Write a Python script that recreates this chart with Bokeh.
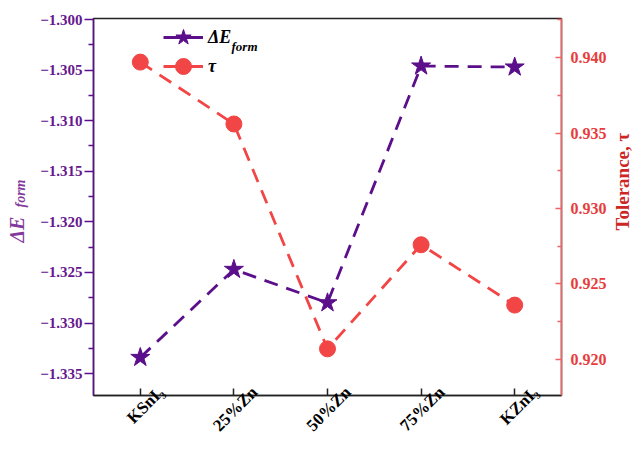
import math

from bokeh.plotting import figure
from bokeh.models import (Range1d, LinearAxis, FixedTicker, CustomJSTickFormatter,
                          Legend, LegendItem, Label, ColumnDataSource)
from bokeh.embed import file_html
from bokeh.resources import INLINE

# Compositions along the x axis
categories = ["KSnI₃", "25%Zn", "50%Zn", "75%Zn", "KZnI₃"]
# Formation energy (left axis)
delta_e_form = [-1.3334, -1.3247, -1.3280, -1.3046, -1.3047]
# Goldschmidt tolerance factor (right axis)
tolerance = [0.9397, 0.9356, 0.9207, 0.9276, 0.9236]

left_ticks = [-1.335, -1.330, -1.325, -1.320, -1.315, -1.310, -1.305, -1.300]
right_ticks = [0.920, 0.925, 0.930, 0.935, 0.940]

PURPLE = "#5B0F8B"
PURPLE_TEXT = "#66198F"
PURPLE_TITLE = "#833A9C"
RED = "#F24545"
RED_AXIS = "#F06464"
RED_TEXT = "#E83C3C"
RED_TITLE = "#CC2626"
FONT = "Liberation Serif"
DASH = "14 9"

xs = list(range(len(categories)))
x_lo, x_hi = -0.5, len(categories) - 0.5
# rotated tick labels are centred a little to the right of their ticks
label_shift = 0.22

p = figure(width=632, height=451,
           x_range=Range1d(x_lo, x_hi),
           y_range=Range1d(-1.33716, -1.2999),
           output_backend="svg", toolbar_location=None,
           min_border_left=93, min_border_right=71,
           min_border_top=18, min_border_bottom=56)
p.extra_x_ranges = {"labels": Range1d(x_lo - label_shift, x_hi - label_shift)}
p.extra_y_ranges = {"tau": Range1d(0.91761, 0.94259),
                    # nothing falls inside this range: used for legend-only swatches
                    "legend": Range1d(100, 101)}
p.xgrid.visible = False
p.ygrid.visible = False
p.outline_line_color = "#222222"
p.outline_line_width = 1.5
p.background_fill_color = "white"
p.border_fill_color = "white"

# x axis: line and inward ticks
xa = p.xaxis[0]
xa.ticker = FixedTicker(ticks=xs, minor_ticks=[])
xa.axis_line_color = "#222222"
xa.axis_line_width = 1.5
xa.major_tick_in = 7
xa.major_tick_out = 0
xa.major_tick_line_color = "#222222"
xa.major_tick_line_width = 1.5
xa.major_label_text_color = None
xa.major_label_text_font_size = "0px"
xa.major_label_standoff = 0

# x axis: composition names
xl = LinearAxis(x_range_name="labels",
                ticker=FixedTicker(ticks=xs, minor_ticks=[]),
                formatter=CustomJSTickFormatter(args=dict(labels=categories),
                                                code="return labels[tick] || '';"))
xl.axis_line_color = None
xl.major_tick_line_color = None
xl.minor_tick_line_color = None
xl.major_tick_in = 0
xl.major_tick_out = 0
xl.minor_tick_in = 0
xl.minor_tick_out = 0
xl.major_label_orientation = math.pi / 4
xl.major_label_text_font = FONT
xl.major_label_text_font_style = "bold"
xl.major_label_text_font_size = "17px"
xl.major_label_text_color = "black"
xl.major_label_standoff = -6
p.add_layout(xl, "below")

minor_left = [t - 0.0025 for t in left_ticks]
minor_right = [t - 0.0025 for t in right_ticks] + [right_ticks[-1] + 0.0025]

# left axis: formation energy
ya = p.yaxis[0]
ya.ticker = FixedTicker(ticks=left_ticks, minor_ticks=minor_left)
ya.formatter = CustomJSTickFormatter(
    code="return (tick < 0 ? '\u2212' : '') + Math.abs(tick).toFixed(3);")
ya.axis_line_color = PURPLE
ya.axis_line_width = 1.5
ya.major_tick_out = 9
ya.major_tick_in = 0
ya.minor_tick_out = 5
ya.minor_tick_in = 0
ya.major_tick_line_color = PURPLE
ya.minor_tick_line_color = PURPLE
ya.major_tick_line_width = 1.5
ya.minor_tick_line_width = 1.5
ya.major_label_text_font = FONT
ya.major_label_text_font_style = "bold"
ya.major_label_text_font_size = "15px"
ya.major_label_text_color = PURPLE_TEXT
ya.major_label_standoff = 2

# right axis: tolerance factor
ra = LinearAxis(y_range_name="tau",
                ticker=FixedTicker(ticks=right_ticks, minor_ticks=minor_right),
                formatter=CustomJSTickFormatter(code="return tick.toFixed(3);"))
ra.axis_line_color = RED_AXIS
ra.axis_line_width = 1.5
ra.major_tick_in = 6
ra.major_tick_out = 0
ra.minor_tick_in = 4
ra.minor_tick_out = 0
ra.major_tick_line_color = RED_AXIS
ra.minor_tick_line_color = RED_AXIS
ra.major_tick_line_width = 1.5
ra.minor_tick_line_width = 1.5
ra.major_label_text_font = FONT
ra.major_label_text_font_style = "bold"
ra.major_label_text_font_size = "16px"
ra.major_label_text_color = RED_TEXT
ra.major_label_standoff = 9
p.add_layout(ra, "right")

# data series
src_e = ColumnDataSource(dict(x=xs, y=delta_e_form))
src_t = ColumnDataSource(dict(x=xs, y=tolerance))

p.line("x", "y", source=src_e, line_color=PURPLE, line_width=2.8, line_dash=DASH)
p.scatter("x", "y", source=src_e, marker="star", size=20,
          fill_color=PURPLE, line_color=PURPLE)
p.line("x", "y", source=src_t, y_range_name="tau", line_color=RED,
       line_width=2.8, line_dash=DASH)
p.scatter("x", "y", source=src_t, y_range_name="tau", marker="circle", size=16,
          fill_color=RED, line_color=RED)

# solid legend swatches (mapped to a range outside the frame)
le = p.line("x", "y", source=src_e, y_range_name="legend", line_color=PURPLE, line_width=2.8)
ls = p.scatter("x", "y", source=src_e, y_range_name="legend", marker="star", size=20,
               fill_color=PURPLE, line_color=PURPLE)
te = p.line("x", "y", source=src_t, y_range_name="legend", line_color=RED, line_width=2.8)
ts = p.scatter("x", "y", source=src_t, y_range_name="legend", marker="circle", size=16,
               fill_color=RED, line_color=RED)

legend_style = dict(border_line_color=None, background_fill_alpha=0,
                    glyph_width=40, glyph_height=40, label_standoff=5, spacing=0,
                    padding=0, margin=0, label_text_font=FONT,
                    label_text_font_style="bold italic", label_text_font_size="18px",
                    label_text_color="black")
# one legend per row so the rows sit closer than the swatch height
p.add_layout(Legend(items=[LegendItem(label="ΔE", renderers=[le, ls])],
                    location=(70, 338), **legend_style))
p.add_layout(Legend(items=[LegendItem(label="τ", renderers=[te, ts])],
                    location=(70, 309), **legend_style))

# legend subscript
p.add_layout(Label(x=231, y=46, x_units="canvas", y_units="canvas", text="form",
                   text_font=FONT, text_font_style="bold italic", text_font_size="13px",
                   text_color="black", text_baseline="middle"))

# left axis title: ΔE_form
p.add_layout(Label(x=16, y=242, x_units="canvas", y_units="canvas", text="ΔE",
                   angle=math.pi / 2, text_font=FONT, text_font_style="bold italic",
                   text_font_size="20px", text_color=PURPLE_TITLE,
                   text_align="left", text_baseline="middle"), "left")
p.add_layout(Label(x=20, y=207, x_units="canvas", y_units="canvas", text="form",
                   angle=math.pi / 2, text_font=FONT, text_font_style="bold italic",
                   text_font_size="14px", text_color=PURPLE_TITLE,
                   text_align="left", text_baseline="middle"), "left")

# right axis title
p.add_layout(Label(x=622, y=230, x_units="canvas", y_units="canvas", text="Tolerance, τ",
                   angle=math.pi / 2, text_font=FONT, text_font_style="bold",
                   text_font_size="19px", text_color=RED_TITLE,
                   text_align="left", text_baseline="middle"), "right")

open("out.html", "w").write(file_html(p, INLINE))
